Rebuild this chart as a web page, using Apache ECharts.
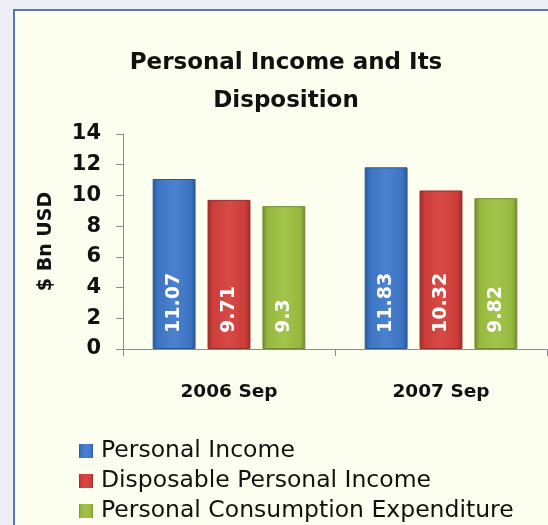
<!DOCTYPE html>
<html>
<head>
<meta charset="utf-8">
<script src="https://cdn.jsdelivr.net/npm/echarts@6/dist/echarts.min.js"></script>
<style>
  html, body { margin: 0; padding: 0; background: #eeeef6; }
  #chart { width: 548px; height: 525px; }
</style>
</head>
<body>
<div id="chart"></div>
<script>
// Personal income figures, $ Bn USD
const categories = ['2006 Sep', '2007 Sep'];
const seriesNames = ['Personal Income', 'Disposable Personal Income', 'Personal Consumption Expenditure'];
const personalIncome = [11.07, 11.83];
const disposableIncome = [9.71, 10.32];
const consumptionExpenditure = [9.3, 9.82];
const yTicks = [0, 2, 4, 6, 8, 10, 12, 14];

const FONT = 'DejaVu Sans';
const INK = '#111111';
const AXIS = '#8c8c8c';

// Bevelled look: dark edges, lighter centre
function barGradient(edge, mid, light) {
  return new echarts.graphic.LinearGradient(0, 0, 1, 0, [
    { offset: 0, color: edge },
    { offset: 0.12, color: mid },
    { offset: 0.5, color: light },
    { offset: 0.88, color: mid },
    { offset: 1, color: edge }
  ]);
}

const palette = [
  { edge: '#2a5796', mid: '#3c74c2', light: '#4a82d0', border: '#2b548c' },
  { edge: '#9c2a28', mid: '#cc3d3a', light: '#d84a46', border: '#962a28' },
  { edge: '#6f8c2c', mid: '#96b83e', light: '#a3c44a', border: '#6e8a30' }
];

const values = [personalIncome, disposableIncome, consumptionExpenditure];

const chart = echarts.init(document.getElementById('chart'), null, { renderer: 'canvas' });

chart.setOption({
  animation: false,
  backgroundColor: '#eeeef6',
  graphic: [
    {
      type: 'rect',
      z: -10,
      shape: { x: 14, y: 10, width: 560, height: 540 },
      style: { fill: '#fcfeef', stroke: '#5b76b0', lineWidth: 2 }
    }
  ],
  title: {
    text: 'Personal Income and Its\nDisposition',
    left: 286,
    textAlign: 'center',
    top: 44,
    padding: 0,
    textStyle: {
      fontFamily: FONT,
      fontWeight: 'bold',
      fontSize: 23,
      lineHeight: 38,
      color: INK
    }
  },
  legend: {
    orient: 'vertical',
    left: 79,
    top: 436,
    height: 200,
    padding: 0,
    itemWidth: 14,
    itemHeight: 14,
    itemGap: 0,
    icon: 'rect',
    itemStyle: { borderWidth: 0 },
    textStyle: {
      fontFamily: FONT,
      fontSize: 23.5,
      lineHeight: 30,
      color: INK,
      padding: [0, 0, 0, 3]
    },
    data: seriesNames
  },
  grid: {
    left: 123,
    right: 1,
    top: 134,
    bottom: 176,
    containLabel: false
  },
  xAxis: {
    type: 'category',
    data: categories,
    axisLine: { lineStyle: { color: AXIS } },
    axisTick: { show: true, length: 7, lineStyle: { color: AXIS } },
    axisLabel: {
      fontFamily: FONT,
      fontWeight: 'bold',
      fontSize: 18.5,
      color: INK,
      margin: 34
    }
  },
  yAxis: {
    type: 'value',
    min: yTicks[0],
    max: yTicks[yTicks.length - 1],
    interval: 2,
    name: '$ Bn USD',
    nameLocation: 'middle',
    nameGap: 67,
    nameRotate: 90,
    nameTextStyle: { fontFamily: FONT, fontWeight: 'bold', fontSize: 19, color: INK },
    splitLine: { show: false },
    axisLine: { show: true, lineStyle: { color: AXIS } },
    axisTick: { show: true, inside: false, length: 7, lineStyle: { color: AXIS } },
    axisLabel: {
      fontFamily: FONT,
      fontWeight: 'bold',
      fontSize: 21,
      color: INK,
      margin: 22,
      padding: [3, 0, 0, 0]
    }
  },
  series: seriesNames.map((name, i) => ({
    name,
    type: 'bar',
    data: values[i],
    barGap: '28%',
    barCategoryGap: '28%',
    itemStyle: {
      color: barGradient(palette[i].edge, palette[i].mid, palette[i].light),
      borderColor: palette[i].border,
      borderWidth: 1
    },
    label: {
      show: true,
      position: 'insideBottom',
      rotate: 90,
      align: 'left',
      verticalAlign: 'middle',
      distance: 16,
      fontFamily: FONT,
      fontWeight: 'bold',
      fontSize: 19,
      color: '#ffffff'
    }
  }))
});
</script>
</body>
</html>
